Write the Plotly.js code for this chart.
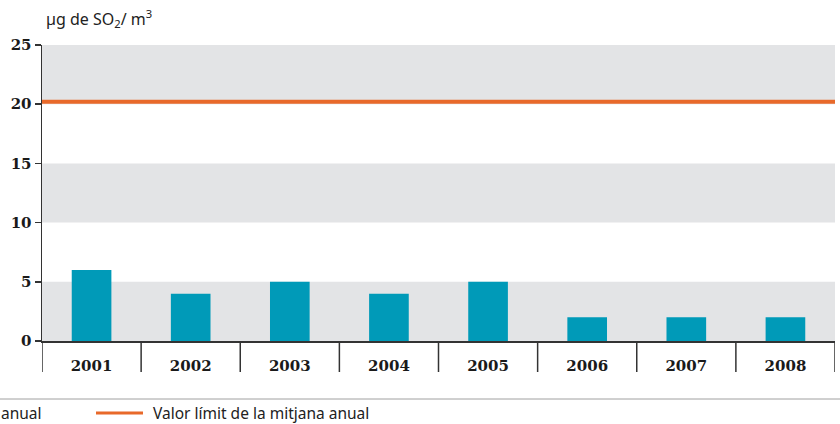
<!DOCTYPE html>
<html><head><meta charset="utf-8">
<script src="https://cdn.plot.ly/plotly-3.0.1.min.js"></script>
<style>html,body{margin:0;padding:0;background:#fff}</style>
</head><body>
<div id="chart" style="width:840px;height:424px"></div>
<script>
const years = ["2001","2002","2003","2004","2005","2006","2007","2008"];
const so2Values = [6, 4, 5, 4, 5, 2, 2, 2];
const limitValue = [20.2];
const yTicks = [0, 5, 10, 15, 20, 25];
const bandRanges = [[0,5],[10,15],[20,25]];

const W = 840, H = 424, L = 42, R = 5, T = 45, B = 83;
const pw = W - L - R, ph = H - T - B;
const px = p => (p - L) / pw;
const py = p => (H - B - p) / ph;

const shapes = [];
bandRanges.forEach(r => shapes.push({type:'rect', xref:'paper', yref:'y', x0:0, x1:1, y0:r[0], y1:r[1], fillcolor:'#e3e4e6', line:{width:0}, layer:'below'}));
for (let i = 0; i <= years.length; i++) {
  shapes.push({type:'line', xref:'x', yref:'paper', x0:i-0.5, x1:i-0.5, y0:0, y1:py(372), line:{color:'#333', width:1.5}});
}
shapes.push({type:'line', xref:'paper', yref:'y', x0:0, x1:1, y0:limitValue[0], y1:limitValue[0], line:{color:'#e8692a', width:4}});
shapes.push({type:'line', xref:'paper', yref:'paper', x0:px(0), x1:px(840), y0:py(399), y1:py(399), line:{color:'#a0a0a0', width:1}});
shapes.push({type:'line', xref:'paper', yref:'paper', x0:px(96), x1:px(143), y0:py(413), y1:py(413), line:{color:'#e8692a', width:3}});

const sans = 'Noto Sans, sans-serif';
const annotations = [
  {xref:'paper', yref:'paper', x:px(44), y:py(19), xanchor:'left', yanchor:'middle', showarrow:false,
   text:'µg de SO<sub>2</sub>/ m<sup>3</sup>', font:{family:sans, size:16, color:'#222'}},
  {xref:'paper', yref:'paper', x:px(-1), y:py(413), xanchor:'left', yanchor:'middle', showarrow:false,
   text:'anual', font:{family:sans, size:15.5, color:'#222'}},
  {xref:'paper', yref:'paper', x:px(151), y:py(413), xanchor:'left', yanchor:'middle', showarrow:false,
   text:'Valor límit de la mitjana anual', font:{family:sans, size:15.5, color:'#222'}}
];

const data = [{
  type:'bar', x: years, y: so2Values, width:0.4,
  marker:{color:'#009ab8'}, hoverinfo:'skip'
}];

const tickFont = {family:'DejaVu Serif, serif', size:15, color:'#1a1a1a', weight:'bold'};
const layout = {
  width:W, height:H, margin:{l:L, r:R, t:T, b:B},
  paper_bgcolor:'#fff', plot_bgcolor:'rgba(0,0,0,0)',
  showlegend:false,
  xaxis:{type:'category', range:[-0.5, years.length-0.5], showgrid:false, zeroline:false,
    showline:true, linecolor:'#333', linewidth:1.5, ticks:'', ticklabelstandoff:10,
    tickfont:tickFont, fixedrange:true},
  yaxis:{range:[0,25], tickvals:yTicks, showgrid:false, zeroline:false, showline:true,
    linecolor:'#333', linewidth:1.5, ticks:'outside', ticklen:6, tickwidth:1.5, tickcolor:'#333',
    tickfont:tickFont, fixedrange:true},
  shapes, annotations
};
Plotly.newPlot('chart', data, layout, {displayModeBar:false, staticPlot:true});
</script>
</body></html>
